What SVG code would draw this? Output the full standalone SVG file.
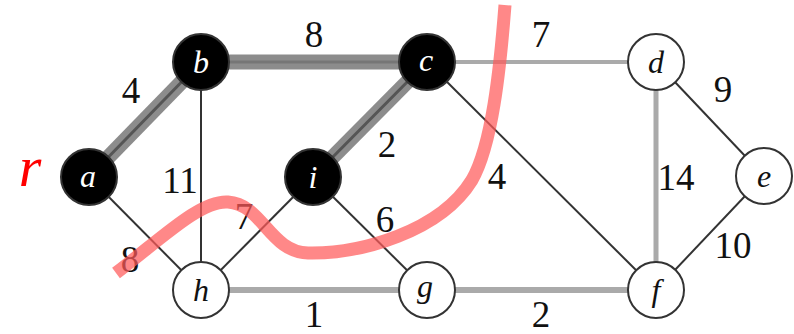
<svg xmlns="http://www.w3.org/2000/svg" width="794" height="334" viewBox="0 0 794 334">
<style>
.thick{stroke:#8c8c8c;stroke-width:15;fill:none}
.thickc{stroke:#555;stroke-width:3;fill:none}
.thin{stroke:#333;stroke-width:2;fill:none}
.light{stroke:#aaa;stroke-width:5;fill:none}
.blk{fill:#000;stroke:#333;stroke-width:2}
.wht{fill:#fff;stroke:#333;stroke-width:2}
.nl{font-family:'Liberation Serif','Times New Roman',serif;font-style:italic;font-size:32px;text-anchor:middle}
.wl{font-family:'Liberation Serif','Times New Roman',serif;font-size:37px;text-anchor:middle;fill:#111}
</style>
<rect width="794" height="334" fill="#fff"/>
<g id="connectors">
<line class="thick" x1="89" y1="177" x2="201" y2="62"/>
<line class="thickc" x1="89" y1="177" x2="201" y2="62"/>
<line class="thick" x1="201" y1="62" x2="427" y2="62"/>
<line class="thickc" x1="201" y1="62" x2="427" y2="62" stroke-opacity="0.4"/>
<line class="thick" x1="427" y1="62" x2="313" y2="177"/>
<line class="thickc" x1="427" y1="62" x2="313" y2="177"/>
<line class="thin" x1="201" y1="62" x2="201" y2="290"/>
<line class="thin" x1="89" y1="177" x2="201" y2="290"/>
<line class="thin" x1="313" y1="177" x2="201" y2="290"/>
<line class="thin" x1="313" y1="177" x2="427" y2="290"/>
<line class="light" x1="427" y1="62" x2="656" y2="62" style="stroke-width:4"/>
<line class="thin" x1="427" y1="62" x2="656" y2="290"/>
<line class="light" x1="656" y1="62" x2="656" y2="290"/>
<line class="thin" x1="656" y1="62" x2="764" y2="176"/>
<line class="thin" x1="764" y1="176" x2="656" y2="290"/>
<line class="light" x1="201" y1="290" x2="427" y2="290" style="stroke-width:6"/>
<line class="light" x1="427" y1="290" x2="656" y2="290" style="stroke-width:6"/>
</g>
<g id="weights">
<text class="wl" x="314" y="47">8</text>
<text class="wl" x="541" y="47">7</text>
<text class="wl" x="131" y="103">4</text>
<text class="wl" x="723" y="102">9</text>
<text class="wl" x="387" y="157">2</text>
<text class="wl" x="180" y="193">11</text>
<text class="wl" x="497" y="189">4</text>
<text class="wl" x="676" y="190">14</text>
<text class="wl" x="244" y="229">7</text>
<text class="wl" x="385" y="232">6</text>
<text class="wl" x="130" y="272">8</text>
<text class="wl" x="733" y="258">10</text>
<text class="wl" x="314" y="327">1</text>
<text class="wl" x="541" y="327">2</text>
</g>
<g id="node-a"><circle class="blk" cx="89" cy="177" r="28"/><text class="nl" x="88" y="187" fill="#fff">a</text></g>
<g id="node-b"><circle class="blk" cx="201" cy="62" r="28"/><text class="nl" x="201" y="73" fill="#fff">b</text></g>
<g id="node-c"><circle class="blk" cx="427" cy="62" r="28"/><text class="nl" x="426" y="71" fill="#fff">c</text></g>
<g id="node-i"><circle class="blk" cx="313" cy="177" r="28"/><text class="nl" x="313" y="188" fill="#fff">i</text></g>
<g id="node-d"><circle class="wht" cx="656" cy="62" r="28"/><text class="nl" x="656" y="73" fill="#111">d</text></g>
<g id="node-e"><circle class="wht" cx="764" cy="176" r="28"/><text class="nl" x="764" y="187" fill="#111">e</text></g>
<g id="node-h"><circle class="wht" cx="201" cy="290" r="28"/><text class="nl" x="201" y="301" fill="#111">h</text></g>
<g id="node-g"><circle class="wht" cx="427" cy="290" r="28"/><text class="nl" x="425" y="297" fill="#111">g</text></g>
<g id="node-f"><circle class="wht" cx="656" cy="290" r="28"/><text class="nl" x="656" y="301" fill="#111">f</text></g>
<g id="cut">
<path d="M116,273 C160,240 200,200 228,202 C262,204 270,252 308,253 C360,254 440,232 472,180 C492,145 500,70 505,5" fill="none" stroke="#ff5a5a" stroke-opacity="0.72" stroke-width="13"/>
<text x="30" y="186" font-family="'Liberation Serif','Times New Roman',serif" font-style="italic" font-size="58" fill="#ff0000" text-anchor="middle">r</text>
</g>
</svg>
